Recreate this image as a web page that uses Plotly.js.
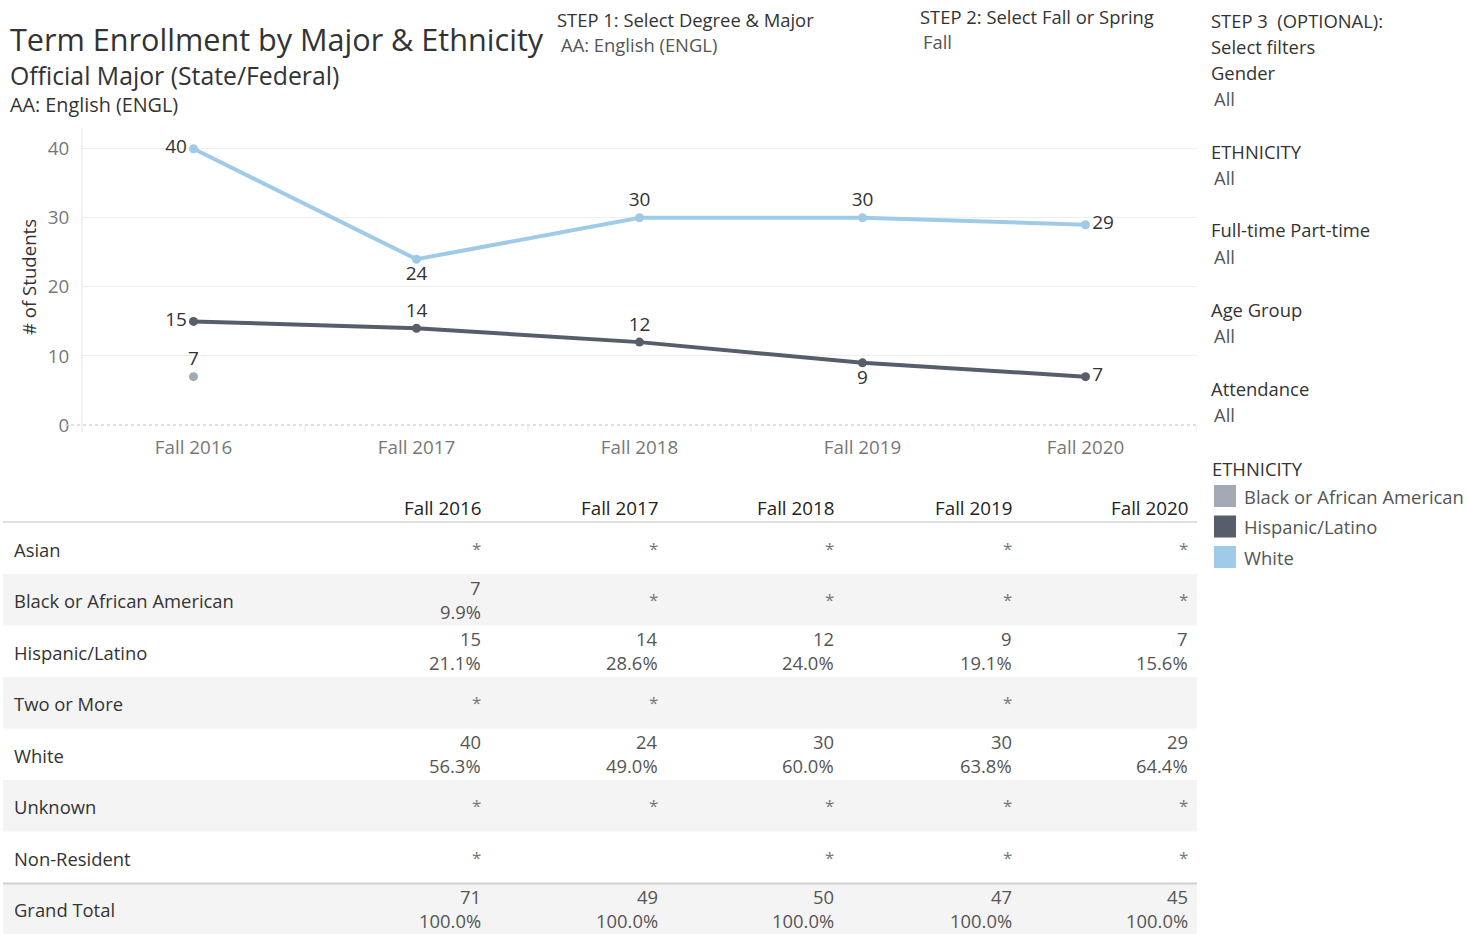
<!DOCTYPE html>
<html>
<head>
<meta charset="utf-8">
<script src="https://cdn.plot.ly/plotly-3.0.1.min.js"></script>
<style>html,body{margin:0;padding:0;background:#fff;}#chart{width:1468px;height:934px;}</style>
</head>
<body>
<div id="chart"></div>
<script>
// ---------- DATA ----------
const terms = ['Fall 2016', 'Fall 2017', 'Fall 2018', 'Fall 2019', 'Fall 2020'];
const whiteValues = [40, 24, 30, 30, 29];
const hispanicValues = [15, 14, 12, 9, 7];
const blackValues = [7, null, null, null, null];

const ethnicityNames = ['Black or African American', 'Hispanic/Latino', 'White'];
const ethnicityColors = ['#a3aab6', '#565e6c', '#a0cbe8'];

const tableRows = ['Asian', 'Black or African American', 'Hispanic/Latino', 'Two or More', 'White', 'Unknown', 'Non-Resident', 'Grand Total'];
const asianCounts = ['*', '*', '*', '*', '*'];
const blackCounts = ['7', '*', '*', '*', '*'];
const blackPcts = ['9.9%', '', '', '', ''];
const hispanicCounts = ['15', '14', '12', '9', '7'];
const hispanicPcts = ['21.1%', '28.6%', '24.0%', '19.1%', '15.6%'];
const twoOrMoreCounts = ['*', '*', '', '*', ''];
const whiteCounts = ['40', '24', '30', '30', '29'];
const whitePcts = ['56.3%', '49.0%', '60.0%', '63.8%', '64.4%'];
const unknownCounts = ['*', '*', '*', '*', '*'];
const nonResidentCounts = ['*', '', '*', '*', '*'];
const totalCounts = ['71', '49', '50', '47', '45'];
const totalPcts = ['100.0%', '100.0%', '100.0%', '100.0%', '100.0%'];
const empty5 = ['', '', '', '', ''];

const filterLabels = ['Gender', 'ETHNICITY', 'Full-time Part-time', 'Age Group', 'Attendance'];
const filterValues = ['All', 'All', 'All', 'All', 'All'];

// ---------- HELPERS ----------
const W = 1468, H = 934;
const X = p => p / W;
const Y = p => 1 - p / H;
const FONT = '"Open Sans", "Noto Sans", sans-serif';
const FS = 18.4;
const annotations = [];
const shapes = [];
function txt(text, x, y, size, color, xanchor, extra) {
  annotations.push(Object.assign({
    text: text, x: X(x), y: Y(y), xref: 'paper', yref: 'paper',
    showarrow: false, xanchor: xanchor || 'left', yanchor: 'middle',
    font: {family: FONT, size: size, color: color}
  }, extra || {}));
}

// ---------- TRACES ----------
const whitePos = ['middle left', 'bottom center', 'top center', 'top center', 'middle right'];
const hispPos = ['middle left', 'top center', 'top center', 'bottom center', 'middle right'];
const labelFont = {family: FONT, size: 19, color: '#333'};
const traces = [
  {
    x: terms, y: whiteValues, type: 'scatter', mode: 'lines+markers+text',
    name: ethnicityNames[2], line: {color: ethnicityColors[2], width: 4},
    marker: {color: ethnicityColors[2], size: 9},
    text: whiteValues.map(String), textposition: whitePos,
    textfont: labelFont, cliponaxis: false
  },
  {
    x: terms, y: hispanicValues, type: 'scatter', mode: 'lines+markers+text',
    name: ethnicityNames[1], line: {color: ethnicityColors[1], width: 4},
    marker: {color: ethnicityColors[1], size: 9},
    text: hispanicValues.map(String), textposition: hispPos,
    textfont: labelFont, cliponaxis: false
  },
  {
    x: terms, y: blackValues, type: 'scatter', mode: 'lines+markers+text',
    name: ethnicityNames[0], line: {color: ethnicityColors[0], width: 4},
    marker: {color: ethnicityColors[0], size: 9},
    text: blackValues.map(v => v == null ? '' : String(v)), textposition: 'top center',
    textfont: labelFont, cliponaxis: false
  }
];

// ---------- HEADER TEXT ----------
txt('Term Enrollment by Major &amp; Ethnicity', 8, 39, 30.6, '#333');
txt('Official Major (State/Federal)', 8, 75, 24.8, '#333');
txt('AA: English (ENGL)', 8, 105, 19.8, '#333');
txt('STEP 1: Select Degree &amp; Major', 555, 19, FS, '#333');
txt('AA: English (ENGL)', 559, 44, FS, '#555');
txt('STEP 2: Select Fall or Spring', 918, 16, FS, '#333');
txt('Fall', 921, 41, FS, '#555');
txt('STEP 3  (OPTIONAL):', 1209, 21, FS, '#333');
txt('Select filters', 1209, 46, FS, '#333');
const filterY = [72, 151, 230, 309, 388];
filterLabels.forEach((l, i) => {
  txt(l, 1209, filterY[i], FS, '#333');
  txt(filterValues[i], 1212, filterY[i] + 26, FS, '#555');
});

// ---------- LEGEND ----------
txt('ETHNICITY', 1210, 468, FS, '#333');
ethnicityNames.forEach((n, i) => {
  const cy = 496 + i * 30.5;
  shapes.push({type: 'rect', xref: 'paper', yref: 'paper', x0: X(1214), x1: X(1236), y0: Y(cy - 11), y1: Y(cy + 11),
    fillcolor: ethnicityColors[i], line: {width: 0}});
  txt(n, 1242, cy, FS, '#555');
});

// ---------- Y TITLE ----------
txt('# of Students', 28, 277, 18.6, '#333', 'center', {textangle: -90, xanchor: 'center'});

// ---------- CHART DECOR ----------
shapes.push({type: 'line', xref: 'paper', yref: 'paper', x0: X(65), x1: X(1197), y0: Y(425), y1: Y(425),
  line: {color: '#d5d5d5', width: 1.5, dash: 'dot'}});
shapes.push({type: 'line', xref: 'paper', yref: 'paper', x0: X(82), x1: X(82), y0: Y(128), y1: Y(432),
  line: {color: '#e6e6e6', width: 1}});
for (let i = 0; i < terms.length; i++) {
  shapes.push({type: 'line', xref: 'x', yref: 'paper', x0: i + 0.5, x1: i + 0.5, y0: Y(425), y1: Y(432),
    line: {color: '#e6e6e6', width: 1}});
}

// ---------- TABLE ----------
const rowCounts = [asianCounts, blackCounts, hispanicCounts, twoOrMoreCounts, whiteCounts, unknownCounts, nonResidentCounts, totalCounts];
const rowPcts = [empty5, blackPcts, hispanicPcts, empty5, whitePcts, empty5, empty5, totalPcts];
const colRight = [483, 660, 836, 1014, 1190];
const rowH = 51.5, tableTop = 522.5;
terms.forEach((t, j) => txt(t, colRight[j], 508, 18.8, '#222', 'right'));
shapes.push({type: 'line', xref: 'paper', yref: 'paper', x0: X(3), x1: X(1197), y0: Y(522), y1: Y(522),
  line: {color: '#d6d6d6', width: 1.5}});
tableRows.forEach((r, i) => {
  const top = tableTop + i * rowH;
  const mid = top + rowH / 2;
  if (i % 2 === 1) {
    shapes.push({type: 'rect', xref: 'paper', yref: 'paper', x0: X(3), x1: X(1197), y0: Y(top + rowH), y1: Y(top),
      fillcolor: '#f4f4f4', line: {width: 0}, layer: 'below'});
  }
  txt(r, 12, mid + 1, FS, '#333');
  const valColor = '#555';
  rowCounts[i].forEach((c, j) => {
    const p = rowPcts[i][j];
    if (p) {
      txt(c, colRight[j], top + 13, FS, valColor, 'right');
      txt(p, colRight[j], top + 37, FS, valColor, 'right');
    } else if (c) {
      txt(c, colRight[j], mid, 17, '#777', 'right');
    }
  });
});
shapes.push({type: 'line', xref: 'paper', yref: 'paper', x0: X(3), x1: X(1197), y0: Y(883.5), y1: Y(883.5),
  line: {color: '#d0d0d0', width: 2}});

// ---------- LAYOUT ----------
const layout = {
  width: W, height: H,
  margin: {l: 0, r: 0, t: 0, b: 0},
  paper_bgcolor: '#fff', plot_bgcolor: 'rgba(0,0,0,0)',
  showlegend: false,
  font: {family: FONT},
  xaxis: {
    domain: [X(82), X(1197)], type: 'category', range: [-0.5, 4.5],
    showgrid: false, zeroline: false, showline: false,
    ticks: 'outside', ticklen: 5, tickcolor: 'rgba(0,0,0,0)',
    tickfont: {family: FONT, size: 18.8, color: '#777'}, fixedrange: true
  },
  yaxis: {
    domain: [Y(425), Y(128)], range: [0, 43],
    tickvals: [0, 10, 20, 30, 40],
    showgrid: true, gridcolor: '#eeeeee', gridwidth: 1, zeroline: false, showline: false,
    ticks: 'outside', ticklen: 8, tickcolor: 'rgba(0,0,0,0)',
    tickfont: {family: FONT, size: 18.8, color: '#777'}, fixedrange: true
  },
  annotations: annotations,
  shapes: shapes
};

Plotly.newPlot('chart', traces, layout, {displayModeBar: false, staticPlot: true});
</script>
</body>
</html>
